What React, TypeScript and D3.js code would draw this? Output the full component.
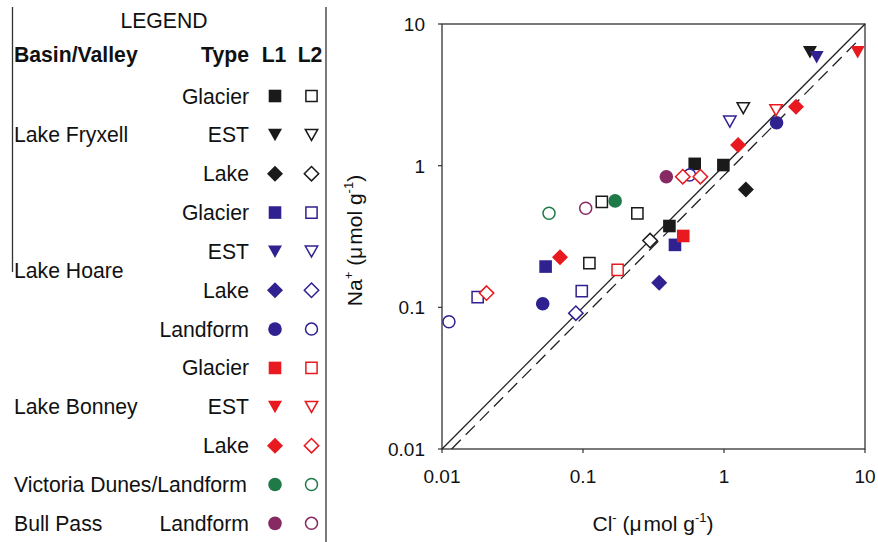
import React from 'react';
import * as d3 from 'd3';

// axis ticks (log decades)
const xTicks = [0.01, 0.1, 1, 10];
const yTicks = [0.01, 0.1, 1, 10];

// [Cl-, Na+] pairs, umol/g
const fryxellGlacierL1 = [[0.62, 1.03], [0.99, 1.01], [0.41, 0.375]];
const fryxellGlacierL2 = [[0.136, 0.556], [0.243, 0.461], [0.111, 0.205]];
const fryxellEstL1 = [[4.07, 6.34]];
const fryxellEstL2 = [[1.37, 2.55]];
const fryxellLakeL1 = [[1.43, 0.68]];
const fryxellLakeL2 = [[0.299, 0.296]];

const hoareGlacierL1 = [[0.449, 0.276], [0.0543, 0.194]];
const hoareGlacierL2 = [[0.098, 0.13], [0.0179, 0.118]];
const hoareEstL1 = [[4.54, 5.85]];
const hoareEstL2 = [[1.1, 2.05]];
const hoareLakeL1 = [[0.347, 0.149]];
const hoareLakeL2 = [[0.089, 0.091]];
const hoareLandformL1 = [[2.36, 2.01], [0.0518, 0.106]];
const hoareLandformL2 = [[0.57, 0.86], [0.0112, 0.079]];

const bonneyGlacierL1 = [[0.514, 0.319]];
const bonneyGlacierL2 = [[0.176, 0.184]];
const bonneyEstL1 = [[8.87, 6.34]];
const bonneyEstL2 = [[2.34, 2.47]];
const bonneyLakeL1 = [[3.24, 2.61], [1.26, 1.4], [0.0687, 0.226]];
const bonneyLakeL2 = [[0.51, 0.836], [0.68, 0.836], [0.0207, 0.126]];

const victoriaL1 = [[0.169, 0.564]];
const victoriaL2 = [[0.0574, 0.461]];

const bullPassL1 = [[0.39, 0.836]];
const bullPassL2 = [[0.1045, 0.5]];

// legend rows: basin key, type
const legendRows = [
  ['fryxell', 'Glacier'], ['fryxell', 'EST'], ['fryxell', 'Lake'],
  ['hoare', 'Glacier'], ['hoare', 'EST'], ['hoare', 'Lake'], ['hoare', 'Landform'],
  ['bonney', 'Glacier'], ['bonney', 'EST'], ['bonney', 'Lake'],
  ['victoria', 'Landform'], ['bull', 'Landform'],
];
const basinLabels = [
  ['Lake Fryxell', 1], ['Lake Hoare', 4.5], ['Lake Bonney', 8],
  ['Victoria Dunes/Landform', 10], ['Bull Pass', 11],
];

const colors = {
  fryxell: '#1a1a1a',
  hoare: '#2f2190',
  bonney: '#e8191f',
  victoria: '#1f7a48',
  bull: '#872a63',
};
const shapeOf = { Glacier: 'square', EST: 'triangle', Lake: 'diamond', Landform: 'circle' };

const series = [
  ['fryxell', 'Glacier', 'L1', fryxellGlacierL1], ['fryxell', 'Glacier', 'L2', fryxellGlacierL2],
  ['fryxell', 'EST', 'L1', fryxellEstL1], ['fryxell', 'EST', 'L2', fryxellEstL2],
  ['fryxell', 'Lake', 'L1', fryxellLakeL1], ['fryxell', 'Lake', 'L2', fryxellLakeL2],
  ['hoare', 'Glacier', 'L1', hoareGlacierL1], ['hoare', 'Glacier', 'L2', hoareGlacierL2],
  ['hoare', 'EST', 'L1', hoareEstL1], ['hoare', 'EST', 'L2', hoareEstL2],
  ['hoare', 'Lake', 'L1', hoareLakeL1], ['hoare', 'Lake', 'L2', hoareLakeL2],
  ['hoare', 'Landform', 'L1', hoareLandformL1], ['hoare', 'Landform', 'L2', hoareLandformL2],
  ['bonney', 'Glacier', 'L1', bonneyGlacierL1], ['bonney', 'Glacier', 'L2', bonneyGlacierL2],
  ['bonney', 'EST', 'L1', bonneyEstL1], ['bonney', 'EST', 'L2', bonneyEstL2],
  ['bonney', 'Lake', 'L1', bonneyLakeL1], ['bonney', 'Lake', 'L2', bonneyLakeL2],
  ['victoria', 'Landform', 'L1', victoriaL1], ['victoria', 'Landform', 'L2', victoriaL2],
  ['bull', 'Landform', 'L1', bullPassL1], ['bull', 'Landform', 'L2', bullPassL2],
];

const W = 878;
const H = 542;
const plot = { left: 442, right: 865, top: 24, bottom: 449 };
const font = 'Liberation Sans, Arial, Helvetica, sans-serif';
const legendFs = 21.2;

function Marker({ shape, filled, color, x, y }) {
  const fill = filled ? color : '#fff';
  const sw = filled ? 0 : 1.5;
  const common = { fill, stroke: color, strokeWidth: sw, transform: `translate(${x},${y})` };
  if (shape === 'circle') return <circle {...common} r={filled ? 6.8 : 6} />;
  let d;
  if (shape === 'square') d = filled ? 'M-6.3,-6.3h12.6v12.6h-12.6Z' : 'M-5.6,-5.6h11.2v11.2h-11.2Z';
  else if (shape === 'diamond') d = filled ? 'M0,-8L8,0L0,8L-8,0Z' : 'M0,-7.2L7.2,0L0,7.2L-7.2,0Z';
  else d = filled ? 'M-7,-6L7,-6L0,6.5Z' : 'M-6.2,-5.4L6.2,-5.4L0,5.6Z';
  return <path {...common} d={d} />;
}

export default function App() {
  const x = d3.scaleLog().domain([0.01, 10]).range([plot.left, plot.right]);
  const y = d3.scaleLog().domain([0.01, 10]).range([plot.bottom, plot.top]);

  const line = d3.line().x(d => x(d[0])).y(d => y(d[1]));
  const oneToOne = [[0.01, 0.01], [10, 10]];
  const fitLine = [[0.0117, 0.0117 * 0.855], [9, 9 * 0.855]];

  const rowY = i => 96 + i * 38.85;
  const typeX = 249;
  const l1X = 275;
  const l2X = 311.5;

  return (
    <svg width={W} height={H} style={{ position: 'absolute', left: 0, top: 0, background: '#fff' }}
      fontFamily={font}>
      {/* legend frame */}
      <line x1={12.5} x2={12.5} y1={7} y2={272} stroke="#333" strokeWidth={1.3} />
      <line x1={326} x2={326} y1={7} y2={542} stroke="#333" strokeWidth={1.3} />
      <text x={164} y={28} fontSize={legendFs} textAnchor="middle" fill="#111">LEGEND</text>
      <text x={14} y={62} fontSize={legendFs} fontWeight="bold" fill="#111">Basin/Valley</text>
      <text x={typeX} y={62} fontSize={legendFs} fontWeight="bold" textAnchor="end" fill="#111">Type</text>
      <text x={274} y={62} fontSize={legendFs} fontWeight="bold" textAnchor="middle" fill="#111">L1</text>
      <text x={310} y={62} fontSize={legendFs} fontWeight="bold" textAnchor="middle" fill="#111">L2</text>
      {basinLabels.map(([t, r]) => (
        <text key={t} x={14} y={rowY(r) + 7.5} fontSize={legendFs} fill="#111">{t}</text>
      ))}
      {legendRows.map(([b, t], i) => (
        <g key={i}>
          {b !== 'victoria' && (
            <text x={typeX} y={rowY(i) + 7.5} fontSize={legendFs} textAnchor="end" fill="#111">{t}</text>
          )}
          <Marker shape={shapeOf[t]} filled color={colors[b]} x={l1X} y={rowY(i)} />
          <Marker shape={shapeOf[t]} filled={false} color={colors[b]} x={l2X} y={rowY(i)} />
        </g>
      ))}

      {/* plot frame */}
      <rect x={plot.left} y={plot.top} width={plot.right - plot.left} height={plot.bottom - plot.top}
        fill="none" stroke="#333" strokeWidth={1.3} />
      {xTicks.map(t => (
        <g key={'x' + t}>
          <line x1={x(t)} x2={x(t)} y1={plot.bottom} y2={plot.bottom + 4} stroke="#333" strokeWidth={1.2} />
          <text x={x(t)} y={483} fontSize={19} textAnchor="middle" fill="#111">{t}</text>
        </g>
      ))}
      {yTicks.map(t => (
        <g key={'y' + t}>
          <line x1={plot.left - 4} x2={plot.left} y1={y(t)} y2={y(t)} stroke="#333" strokeWidth={1.2} />
          <text x={425} y={y(t) + 7} fontSize={19} textAnchor="end" fill="#111">{t}</text>
        </g>
      ))}

      <path d={line(oneToOne)} fill="none" stroke="#222" strokeWidth={1.3} />
      <path d={line(fitLine)} fill="none" stroke="#222" strokeWidth={1.3} strokeDasharray="13,7" />

      {series.map(([b, t, lvl, pts]) =>
        pts.map((p, j) => (
          <Marker key={b + t + lvl + j} shape={shapeOf[t]} filled={lvl === 'L1'} color={colors[b]}
            x={x(p[0])} y={y(p[1])} />
        ))
      )}

      {/* axis titles */}
      <text x={653} y={531} fontSize={21} textAnchor="middle" fill="#111">
        Cl<tspan fontSize={13} dy={-9}>-</tspan><tspan dy={9}> (μ</tspan><tspan dx={2}>mol g</tspan><tspan fontSize={13} dy={-9}>-1</tspan><tspan dy={9}>)</tspan>
      </text>
      <text transform={`translate(362,${(plot.top + plot.bottom) / 2 + 4}) rotate(-90)`} fontSize={21}
        textAnchor="middle" fill="#111">
        Na<tspan fontSize={13} dy={-9}>+</tspan><tspan dy={9}> (μ</tspan><tspan dx={2}>mol g</tspan><tspan fontSize={13} dy={-9}>-1</tspan><tspan dy={9}>)</tspan>
      </text>
    </svg>
  );
}
